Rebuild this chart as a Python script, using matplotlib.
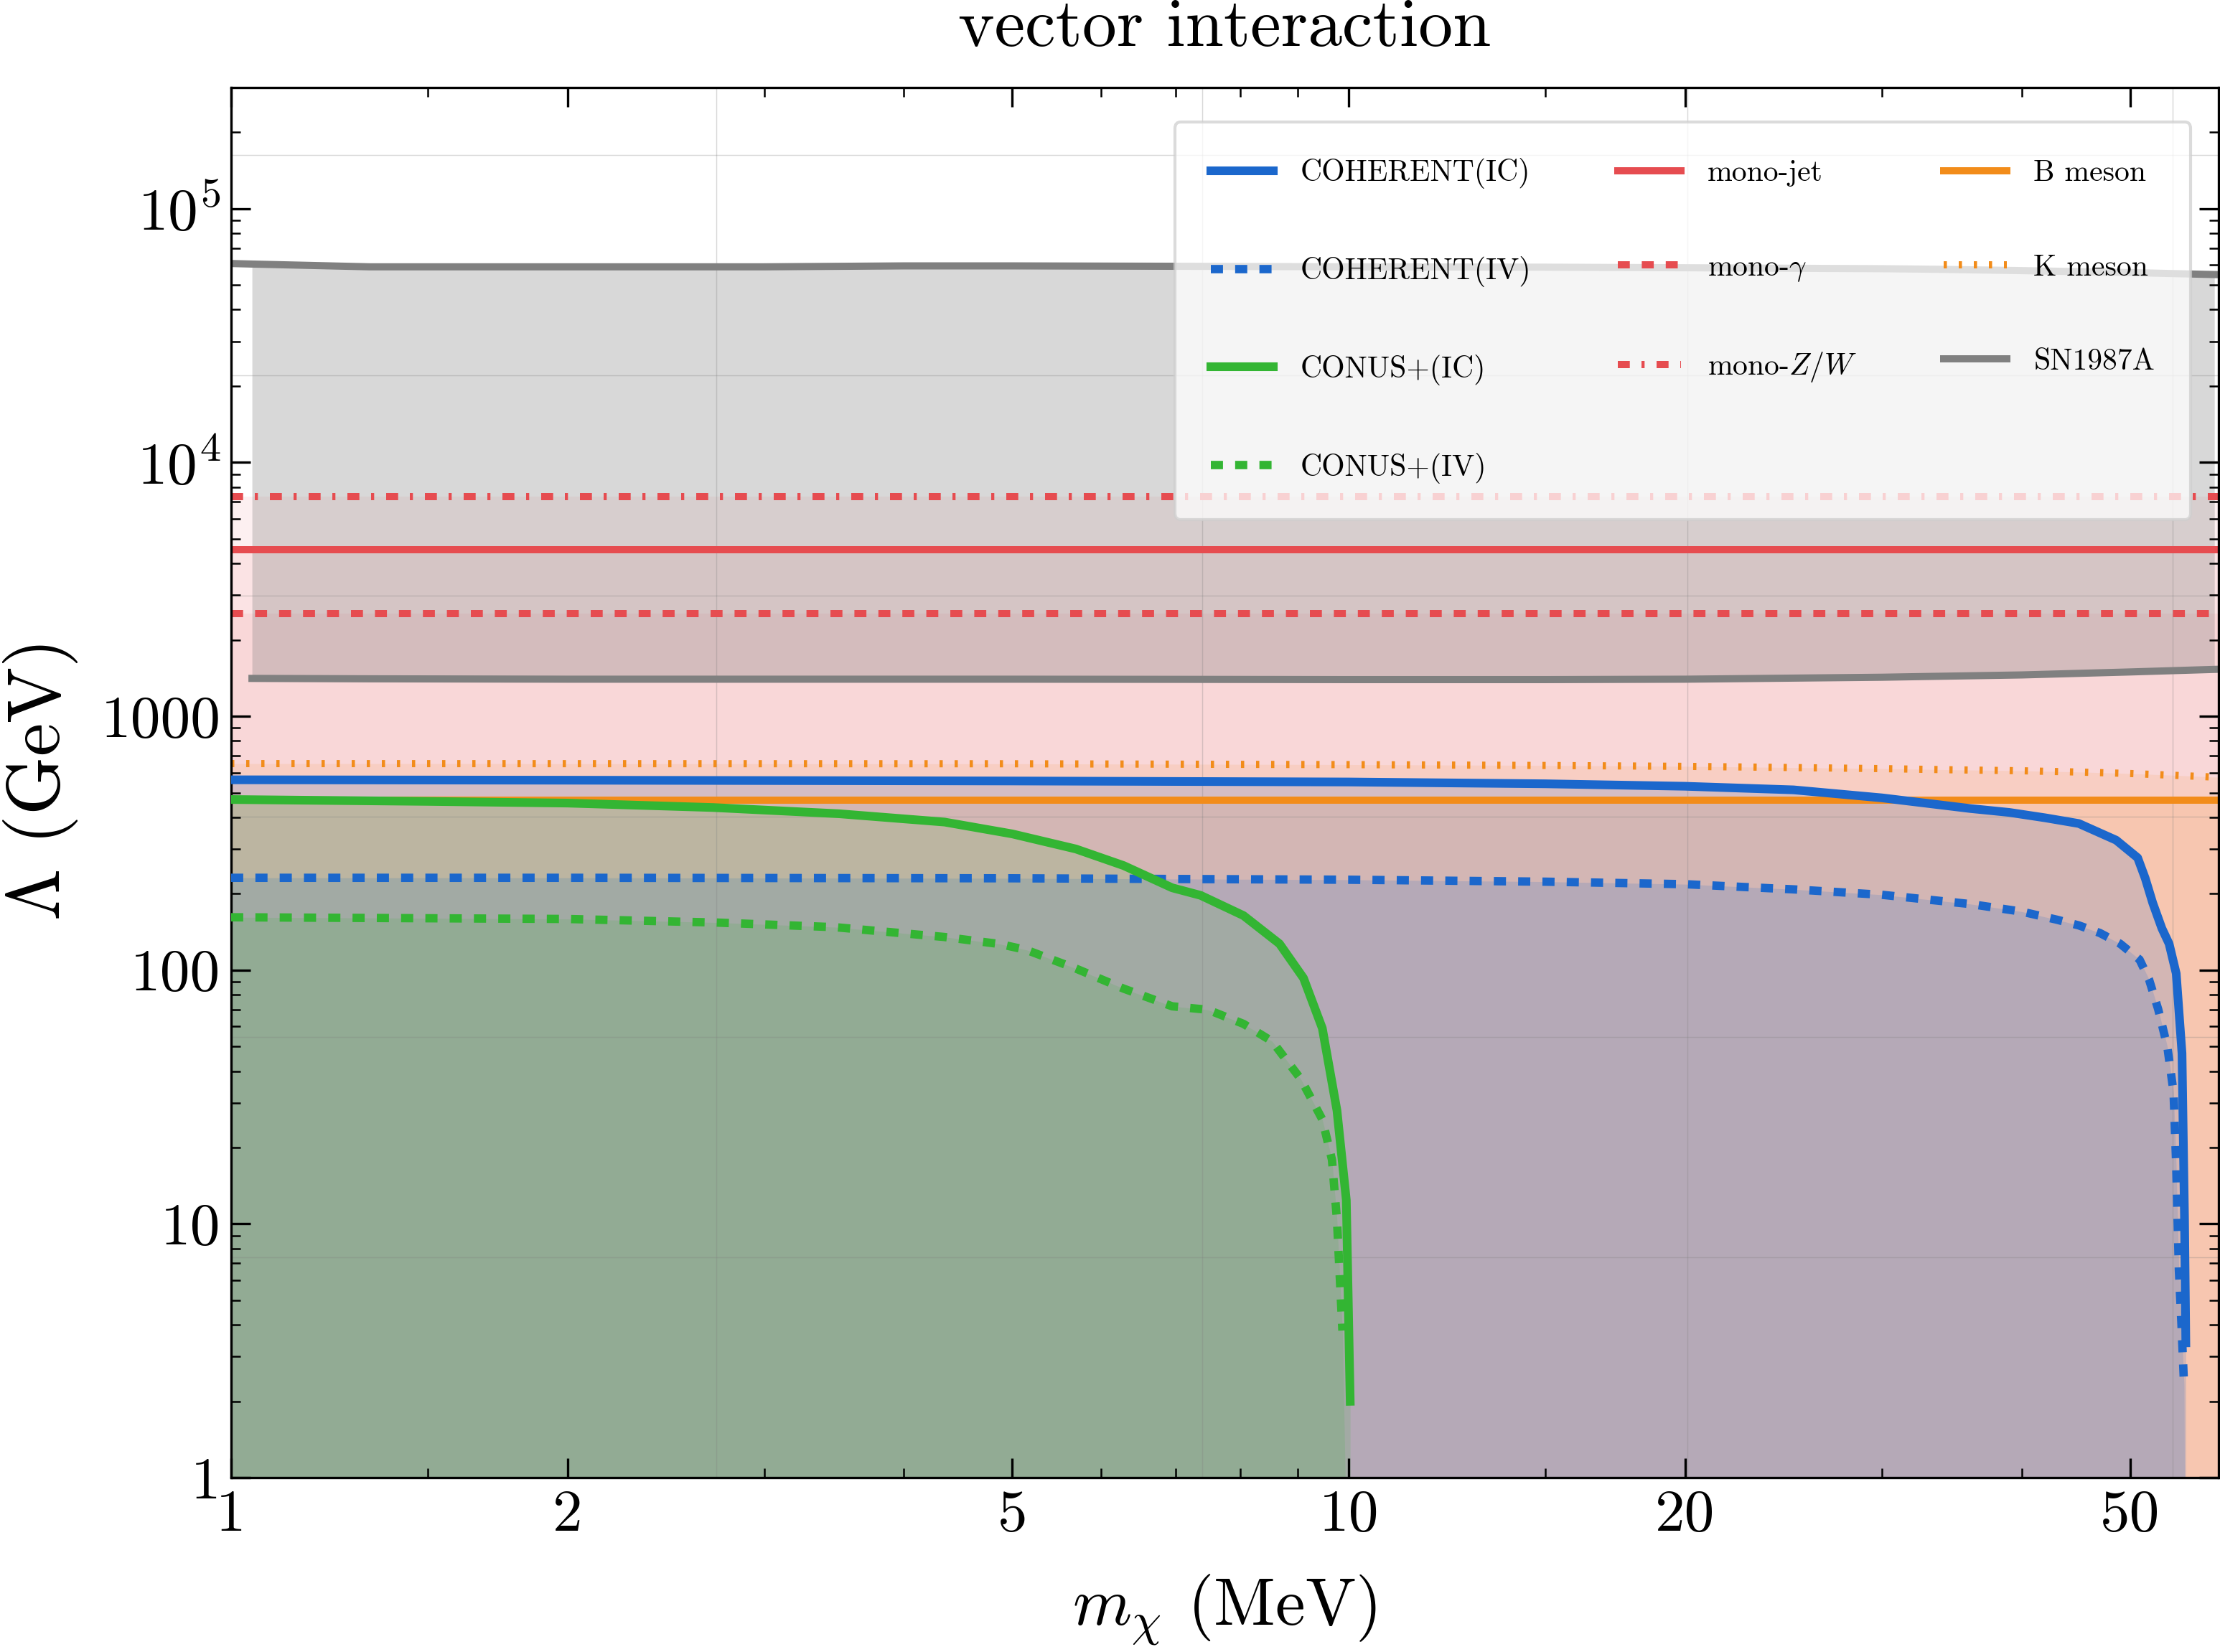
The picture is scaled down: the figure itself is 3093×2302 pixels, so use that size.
import numpy as np
import matplotlib.pyplot as plt
from matplotlib.ticker import FixedLocator, FixedFormatter, LogLocator, NullFormatter

plt.rcParams['font.family'] = 'cmr10'
plt.rcParams['mathtext.fontset'] = 'cm'
plt.rcParams['axes.formatter.use_mathtext'] = True

# ---- values ----
flat_x = [1.0, 60.0]
mono_jet = 4540.0
mono_gamma = 2540.0
mono_zw = 7330.0
b_meson = 468.0

k_x = [1, 5, 10, 15, 20, 25, 30, 35, 40, 45, 50, 55, 60]
k_y = [651, 650, 645, 640, 635, 628, 622, 615, 610, 603, 595, 585, 575]

sn_x = [1.044, 1.33, 2, 3, 4, 5, 7, 10, 15, 20, 30, 33.6, 40, 50, 59.5]
sn_hi = [60500, 59000, 59000, 59000, 59500, 59500, 59300, 59000, 58800, 58500, 58000, 57700, 57000, 56000, 55000]
sn_lo = [1410, 1405, 1400, 1400, 1400, 1400, 1398, 1395, 1395, 1400, 1425, 1437, 1455, 1495, 1530]
sn_hi_start = 60800  # upper bound reaches the left edge

coh_x = [1, 2, 5, 10, 15, 20, 25, 30, 36, 39, 42, 45, 48.6, 50.8, 51.6, 52.4, 53.4, 54.2, 55.0, 55.66, 55.95, 56.1]
coh_ic = [562, 560, 556, 551, 542, 530, 513, 477, 433, 418, 398, 378, 325, 277, 230, 184, 146, 127, 97, 47, 10.4, 3.4]

cohv_x = [1, 2, 5, 10, 15, 20, 25, 30, 36, 40, 43, 45, 47, 49, 51, 52, 53, 54, 54.7, 55.0, 55.3, 55.6, 55.9]
coh_iv = [231, 231, 230, 227, 223, 218, 208, 198, 182, 170, 158, 150, 140, 127, 110, 92, 70, 50, 33, 17, 6.6, 4.0, 2.3]

con_x = [1, 1.5, 2, 2.7, 3.5, 4.35, 5.0, 5.7, 6.29, 6.95, 7.37, 8.05, 8.67, 9.11, 9.47, 9.76, 9.95, 10.03]
con_ic = [470, 462, 455, 437, 413, 383, 344, 300, 258, 211, 197, 164, 127, 93, 59, 28, 12.4, 2.0]

conv_x = [1, 2, 2.71, 3.47, 4.35, 4.87, 5.15, 5.7, 6.29, 6.95, 7.48, 8.05, 8.54, 9.06, 9.47, 9.66, 9.76, 9.87]
con_iv = [161.5, 159, 154, 147.6, 135, 126.7, 120, 101.4, 84.5, 72, 69.8, 61.4, 52.4, 37.2, 25.8, 17.9, 10.4, 3.8]

x_major = [1, 2, 5, 10, 20, 50]
x_labels = ['1', '2', '5', '10', '20', '50']
x_minor = [1.5, 3, 4, 6, 7, 8, 9, 15, 30, 40]
y_major = [1, 10, 100, 1000, 1e4, 1e5]
y_labels = ['1', '10', '100', '1000', r'$10^4$', r'$10^5$']

blue = '#1b67cc'
green = '#33b533'
red = '#e64c50'
orange = '#f28c1a'
grey = '#808080'

fig = plt.figure(figsize=(3093 / 300, 2302 / 300), dpi=300)
ax = fig.add_axes([0.1041, 0.1055, 0.8952, 0.8415])
ax.set_xscale('log')
ax.set_yscale('log')

floor = 0.1
# shaded regions
for v in [mono_zw, mono_jet, mono_gamma]:
    ax.fill_between(flat_x, floor, [v, v], color=red, alpha=0.08, lw=0, zorder=1)
ax.fill_between(k_x, floor, k_y, color=orange, alpha=0.11, lw=0, zorder=1)
ax.fill_between(flat_x, floor, [b_meson, b_meson], color=orange, alpha=0.11, lw=0, zorder=1)
ax.fill_between(sn_x, sn_lo, sn_hi, color=grey, alpha=0.3, lw=0, zorder=1)
ax.fill_between(coh_x, floor, coh_ic, color=blue, alpha=0.16, lw=0, zorder=1)
# dashed-curve regions close down at the same mass as the solid ones
ax.fill_between(cohv_x + [coh_x[-1]], floor, coh_iv + [floor], color=blue, alpha=0.16, lw=0, zorder=1)
ax.fill_between(con_x, floor, con_ic, color=green, alpha=0.14, lw=0, zorder=1)
ax.fill_between(conv_x + [con_x[-1]], floor, con_iv + [floor], color=green, alpha=0.14, lw=0, zorder=1)

# faint grid
for k in range(1, 5):
    ax.axvline(np.e ** k, color=grey, lw=0.35, alpha=0.3, zorder=1.5)
for k in range(0, 7):
    ax.axhline(np.e ** (2 * k), color=grey, lw=0.35, alpha=0.3, zorder=1.5)

dash_c = (0, (1.45, 1.45))
ax.plot(coh_x, coh_ic, color=blue, lw=2.9, label='COHERENT(IC)', zorder=3)
ax.plot(cohv_x, coh_iv, color=blue, lw=2.8, ls=dash_c, label='COHERENT(IV)', zorder=3)
ax.plot(con_x, con_ic, color=green, lw=2.9, label='CONUS+(IC)', zorder=3)
ax.plot(conv_x, con_iv, color=green, lw=2.8, ls=dash_c, label='CONUS+(IV)', zorder=3)
ax.plot(flat_x, [mono_jet] * 2, color=red, lw=2.4, label='mono-jet', zorder=2)
ax.plot(flat_x, [mono_gamma] * 2, color=red, lw=2.4, ls=(0, (1.67, 1.67)), label=r'mono-$\gamma$', zorder=2)
ax.plot(flat_x, [mono_zw] * 2, color=red, lw=2.4, ls=(0, (1.67, 1.63, 0.43, 1.67)),
        label=r'mono-$Z/W$', zorder=2)
ax.plot(flat_x, [b_meson] * 2, color=orange, lw=2.4, label='B meson', zorder=2)
ax.plot(k_x, k_y, color=orange, lw=2.4, ls=(0, (0.45, 1.65)), label='K meson', zorder=2)
ax.plot(sn_x, sn_lo, color=grey, lw=2.4, label='SN1987A', zorder=2)
ax.plot([1.0] + sn_x, [sn_hi_start] + sn_hi, color=grey, lw=2.4, zorder=2)

ax.set_xlim(1, 60)
ax.set_ylim(1, 3e5)

ax.xaxis.set_major_locator(FixedLocator(x_major))
ax.xaxis.set_major_formatter(FixedFormatter(x_labels))
ax.xaxis.set_minor_locator(FixedLocator(x_minor))
ax.xaxis.set_minor_formatter(NullFormatter())
ax.yaxis.set_major_locator(FixedLocator(y_major))
ax.yaxis.set_major_formatter(FixedFormatter(y_labels))
ax.yaxis.set_minor_locator(LogLocator(base=10, subs=np.arange(2, 10), numticks=50))
ax.yaxis.set_minor_formatter(NullFormatter())

ax.tick_params(which='both', direction='in', top=True, right=True, labelsize=20)
ax.tick_params(which='major', length=6.4, width=0.8)
ax.tick_params(which='minor', length=3.2, width=0.6)
ax.tick_params(axis='x', which='major', pad=4)
ax.tick_params(axis='y', which='major', pad=3.5)
for s in ax.spines.values():
    s.set_linewidth(0.8)

ax.set_xlabel(r'$m_\chi$ (MeV)', fontsize=22.5, labelpad=10)
ax.set_ylabel(r'$\Lambda$ (GeV)', fontsize=25, labelpad=7)
ax.set_title('vector interaction', fontsize=23, pad=14)

leg = ax.legend(ncol=3, loc='upper right', bbox_to_anchor=(0.986, 0.975), borderaxespad=0,
                fontsize=10, labelspacing=2.25, handlelength=2.1, handletextpad=0.9,
                columnspacing=2.9, borderpad=1.2, fancybox=True, framealpha=0.75,
                facecolor='white', edgecolor='#cfcfcf')
leg.get_frame().set_linewidth(1.0)
leg.set_zorder(5)

fig.savefig('out.png', dpi=300)
